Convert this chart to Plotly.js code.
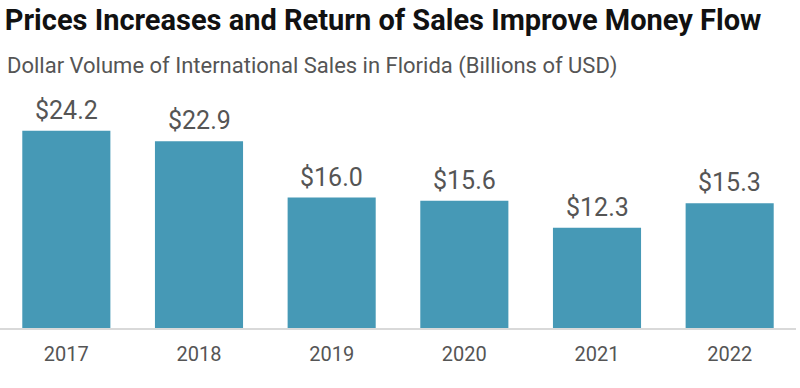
<!DOCTYPE html>
<html>
<head>
<meta charset="utf-8">
<script src="https://cdn.plot.ly/plotly-3.0.1.min.js"></script>
<style>html,body{margin:0;padding:0;background:#fff;}#chart{width:800px;height:388px;}</style>
</head>
<body>
<div id="chart"></div>
<script>
var years = ['2017', '2018', '2019', '2020', '2021', '2022'];
var values = [24.2, 22.9, 16.0, 15.6, 12.3, 15.3];
var valueLabels = ['$24.2', '$22.9', '$16.0', '$15.6', '$12.3', '$15.3'];

var titleText = 'Prices Increases and Return of Sales Improve Money Flow';
var subtitleText = 'Dollar Volume of International Sales in Florida (Billions of USD)';

var font = 'Roboto, "Noto Sans", sans-serif';

var trace = {
  type: 'bar',
  x: years,
  y: values,
  marker: {color: '#4699b6', line: {width: 0}},
  hoverinfo: 'none'
};

var annotations = years.map(function (yr, i) {
  return {
    x: i, y: values[i], xref: 'x', yref: 'y',
    text: valueLabels[i], showarrow: false,
    yanchor: 'bottom', yshift: 4,
    font: {family: font, size: 25, color: '#555555'}
  };
});
annotations.push({
  xref: 'paper', yref: 'paper', x: 0.006, y: 1.10,
  xanchor: 'left', yanchor: 'middle',
  text: subtitleText, showarrow: false,
  font: {family: font, size: 22, color: '#555555'}
});

var layout = {
  width: 800, height: 388,
  margin: {l: 0, r: 4, t: 90, b: 60},
  paper_bgcolor: '#ffffff', plot_bgcolor: '#ffffff',
  showlegend: false,
  bargap: 0.336,
  title: {
    text: '<b>' + titleText + '</b>',
    xref: 'container', yref: 'container',
    x: 0.006, xanchor: 'left', y: 1 - 20 / 388, yanchor: 'middle',
    font: {family: font, size: 29, color: '#111111'}
  },
  xaxis: {
    type: 'category',
    range: [-0.5, 5.5],
    showline: true, linecolor: '#d9d9d9', linewidth: 2,
    showgrid: false, zeroline: false, ticks: '',
    ticklabelstandoff: 7,
    tickfont: {family: font, size: 20, color: '#555555'},
    fixedrange: true
  },
  yaxis: {
    range: [0, 29.2], visible: false, showgrid: false, zeroline: false, fixedrange: true
  },
  annotations: annotations
};

Plotly.newPlot('chart', [trace], layout, {displayModeBar: false, staticPlot: true});
</script>
</body>
</html>
